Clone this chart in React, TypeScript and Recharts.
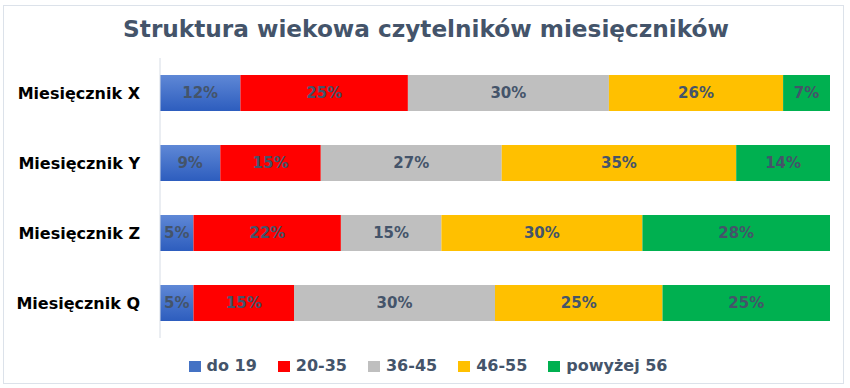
import React from "react";
import { BarChart, Bar, XAxis, YAxis, LabelList, Legend } from "recharts";

const categories = ["Miesięcznik X", "Miesięcznik Y", "Miesięcznik Z", "Miesięcznik Q"];
const seriesNames = ["do 19", "20-35", "36-45", "46-55", "powyżej 56"];
const do19 = [12, 9, 5, 5];
const age2035 = [25, 15, 22, 15];
const age3645 = [30, 27, 15, 30];
const age4655 = [26, 35, 30, 25];
const over56 = [7, 14, 28, 25];

const seriesValues = [do19, age2035, age3645, age4655, over56];
const COLORS = ["url(#blueGrad)", "#FF0000", "#BFBFBF", "#FFC000", "#00B050"];
const LEGEND_COLORS = ["#4472C4", "#FF0000", "#BFBFBF", "#FFC000", "#00B050"];
const TEXT = "#44546A";
const FONT = "'DejaVu Sans', Verdana, sans-serif";

const data = categories.map((name, i) => {
  const row: Record<string, string | number> = { name };
  seriesNames.forEach((s, j) => {
    row[s] = seriesValues[j][i];
  });
  return row;
});

const renderLegend = () => (
  <div style={{ display: "flex", justifyContent: "center", fontFamily: FONT, fontWeight: "bold", fontSize: 16, color: TEXT, lineHeight: "18px", paddingLeft: 6 }}>
    {seriesNames.map((s, i) => (
      <div key={s} style={{ display: "flex", alignItems: "center", marginRight: i < seriesNames.length - 1 ? 21 : 0 }}>
        <span style={{ display: "inline-block", width: 12, height: 11, background: LEGEND_COLORS[i], marginRight: 6 }} />
        <span>{s}</span>
      </div>
    ))}
  </div>
);

export default function App() {
  return (
    <div style={{ position: "absolute", left: 0, top: 0, width: 850, height: 388, background: "#fff" }}>
      <div
        style={{
          position: "absolute",
          left: 3,
          top: 5,
          width: 841,
          height: 379,
          border: "1px solid #DCE2EA",
          boxSizing: "border-box",
        }}
      />
      <div
        style={{
          position: "absolute",
          left: 0,
          top: 15,
          width: 852,
          textAlign: "center",
          fontFamily: FONT,
          fontWeight: "bold",
          fontSize: 23.2,
          color: TEXT,
        }}
      >
        Struktura wiekowa czytelników miesięczników
      </div>
      <BarChart
        width={850}
        height={388}
        data={data}
        layout="vertical"
        margin={{ top: 58, right: 20, bottom: 32, left: 0 }}
        barSize={36}
        style={{ position: "absolute", left: 0, top: 0 }}
      >
        <defs>
          <linearGradient id="blueGrad" x1="0" y1="0" x2="0" y2="1">
            <stop offset="0%" stopColor="#5F88D6" />
            <stop offset="100%" stopColor="#2D5DBE" />
          </linearGradient>
        </defs>
        <XAxis type="number" domain={[0, 100]} hide />
        <YAxis
          type="category"
          dataKey="name"
          width={160}
          axisLine={{ stroke: "#D6DCE5" }}
          tickLine={false}
          tickMargin={14}
          tick={{ fill: "#000", fontFamily: FONT, fontWeight: "bold", fontSize: 16 }}
        />
        <Legend
          verticalAlign="bottom"
          content={renderLegend}
          wrapperStyle={{ left: 0, width: 850, top: 357 }}
        />
        {seriesNames.map((s, i) => (
          <Bar key={s} dataKey={s} stackId="a" fill={COLORS[i]} isAnimationActive={false}>
            <LabelList
              dataKey={s}
              position="center"
              formatter={(v: number) => `${v}%`}
              style={{ fill: TEXT, fontFamily: FONT, fontWeight: "bold", fontSize: 15 }}
            />
          </Bar>
        ))}
      </BarChart>
    </div>
  );
}
